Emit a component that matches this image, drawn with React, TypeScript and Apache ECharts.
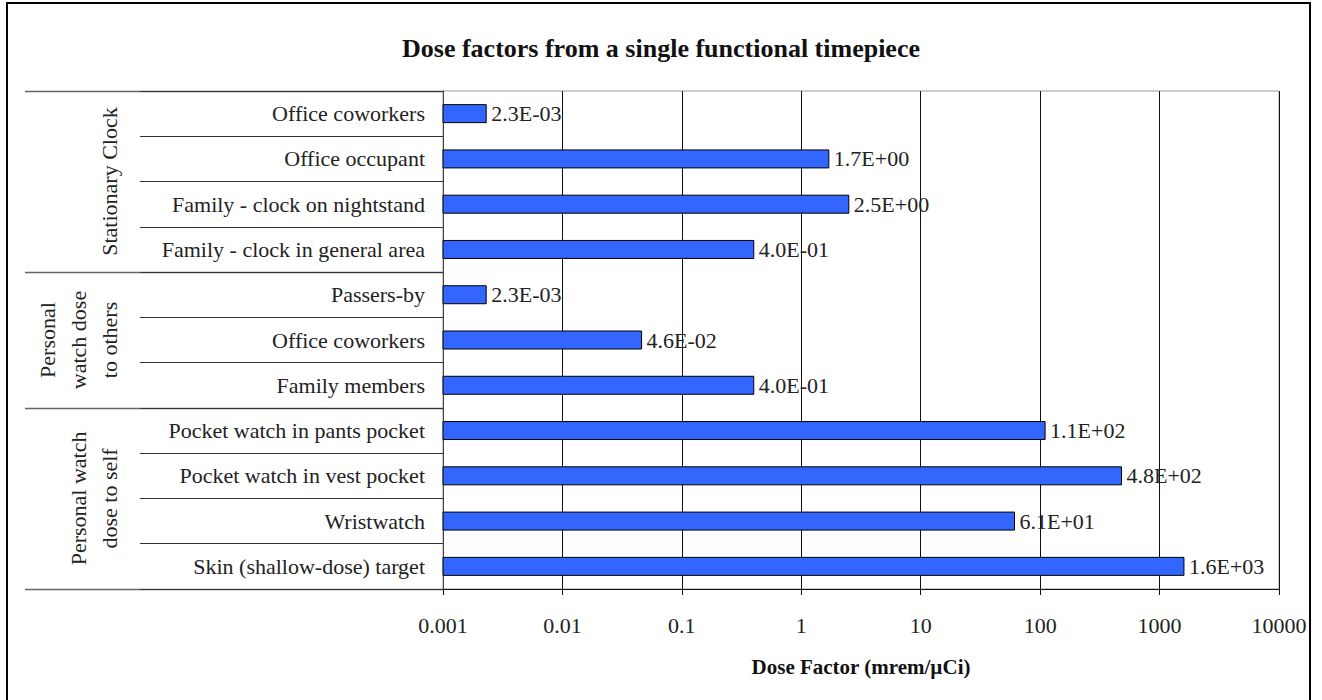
import React, { useEffect, useRef } from "react";
import * as echarts from "echarts";

const categories = [
  "Office coworkers",
  "Office occupant",
  "Family - clock on nightstand",
  "Family - clock in general area",
  "Passers-by",
  "Office coworkers",
  "Family members",
  "Pocket watch in pants pocket",
  "Pocket watch in vest pocket",
  "Wristwatch",
  "Skin (shallow-dose) target",
];
const doseValues = [0.0023, 1.7, 2.5, 0.4, 0.0023, 0.046, 0.4, 110, 480, 61, 1600];
const groupNames = ["Stationary Clock", "Personal\nwatch dose\nto others", "Personal watch\ndose to self"];
const groupSizes = [4, 3, 4];
const xTickLabels = ["0.001", "0.01", "0.1", "1", "10", "100", "1000", "10000"];
const xMin = 0.001;
const xMax = 10000;

const FONT = '"Liberation Serif", "DejaVu Serif", serif';
const FS = 22;

function fmtExp(v: number): string {
  const [m, e] = v.toExponential(1).split("e");
  const n = parseInt(e, 10);
  const sign = n < 0 ? "-" : "+";
  return `${m}E${sign}${String(Math.abs(n)).padStart(2, "0")}`;
}

export default function App() {
  const ref = useRef<HTMLDivElement>(null);
  useEffect(() => {
    if (!ref.current) return;
    const chart = echarts.init(ref.current, undefined, { renderer: "svg" });
    const option: any = {
      animation: false,
      backgroundColor: "#ffffff",
      title: {
        text: "Dose factors from a single functional timepiece",
        left: "center",
        top: 30,
        textStyle: { fontFamily: FONT, fontSize: 26, fontWeight: "bold", color: "#111" },
      },
      grid: {
        left: 443,
        right: 43,
        top: 91,
        bottom: 111,
        show: true,
        borderColor: "#9a9a9a",
        borderWidth: 1,
        backgroundColor: "transparent",
      },
      xAxis: {
        type: "log",
        logBase: 10,
        min: xMin,
        max: xMax,
        name: "Dose Factor (mrem/\u00b5Ci)",
        nameLocation: "middle",
        nameGap: 67,
        nameTextStyle: { fontFamily: FONT, fontSize: 21, fontWeight: "bold", color: "#111" },
        axisLine: { show: true, lineStyle: { color: "#111", width: 1 } },
        axisTick: { show: true, length: 6, lineStyle: { color: "#111" } },
        minorTick: { show: false },
        splitLine: { show: true, lineStyle: { color: "#111", width: 1 } },
        axisLabel: {
          margin: 25,
          fontFamily: FONT,
          fontSize: FS,
          color: "#222",
          formatter: (v: number) => {
            const idx = Math.round(Math.log10(v)) + 3;
            return xTickLabels[idx] ?? "";
          },
        },
      },
      yAxis: {
        type: "category",
        inverse: true,
        data: categories,
        axisLine: { show: true, lineStyle: { color: "#444", width: 1 } },
        axisTick: { show: true, length: 303, interval: 0, lineStyle: { color: "#333", width: 1 } },
        axisLabel: { margin: 18, fontFamily: FONT, fontSize: FS, color: "#222", interval: 0 },
        splitLine: { show: false },
      },
      series: [
        {
          type: "custom",
          data: doseValues.map((v, i) => [v, i]),
          encode: { x: 0, y: 1 },
          clip: false,
          renderItem: (params: any, api: any) => {
            const v = api.value(0);
            const ci = api.value(1);
            const s = api.coord([xMin, ci]);
            const e = api.coord([v, ci]);
            const h = 18;
            return {
              type: "group",
              children: [
                {
                  type: "rect",
                  shape: { x: s[0], y: s[1] - h / 2, width: e[0] - s[0], height: h },
                  style: { fill: "#3366ff", stroke: "#000", lineWidth: 1 },
                },
                {
                  type: "text",
                  x: e[0] + 5,
                  y: e[1],
                  style: {
                    text: fmtExp(v),
                    fontFamily: FONT,
                    fontSize: FS,
                    fill: "#222",
                    align: "left",
                    verticalAlign: "middle",
                  },
                },
              ],
            };
          },
        },
      ],
    };
    chart.setOption(option);

    const c0 = chart.convertToPixel({ yAxisIndex: 0 }, 0) as number;
    const c1 = chart.convertToPixel({ yAxisIndex: 0 }, 1) as number;
    const band = c1 - c0;
    const boundary = (i: number) => c0 - band / 2 + i * band;
    const xLeft = chart.convertToPixel({ xAxisIndex: 0 }, xMin) as number;

    const graphics: any[] = [
      {
        type: "rect",
        shape: { x: 7, y: 3, width: 1303, height: 710 },
        style: { fill: "none", stroke: "#000", lineWidth: 2 },
        silent: true,
      },
    ];
    let start = 0;
    const bounds = [0];
    groupSizes.forEach((s) => {
      start += s;
      bounds.push(start);
    });
    bounds.forEach((b) => {
      const y = Math.round(boundary(b)) + 0.5;
      graphics.push({
        type: "line",
        shape: { x1: 25, y1: y, x2: xLeft, y2: y },
        style: { stroke: "#666", lineWidth: 1.5 },
        silent: true,
      });
    });
    groupNames.forEach((name, gi) => {
      const yc = (boundary(bounds[gi]) + boundary(bounds[gi + 1])) / 2;
      graphics.push({
        type: "text",
        x: 125,
        y: yc,
        rotation: Math.PI / 2,
        style: {
          text: name,
          fontFamily: FONT,
          fontSize: FS,
          fill: "#222",
          align: "center",
          verticalAlign: "bottom",
          lineHeight: 31,
        },
        silent: true,
      });
    });
    chart.setOption({ graphic: graphics });

    return () => chart.dispose();
  }, []);
  return (
    <div
      ref={ref}
      style={{ position: "absolute", left: 0, top: 0, width: 1322, height: 700, background: "#fff" }}
    />
  );
}
